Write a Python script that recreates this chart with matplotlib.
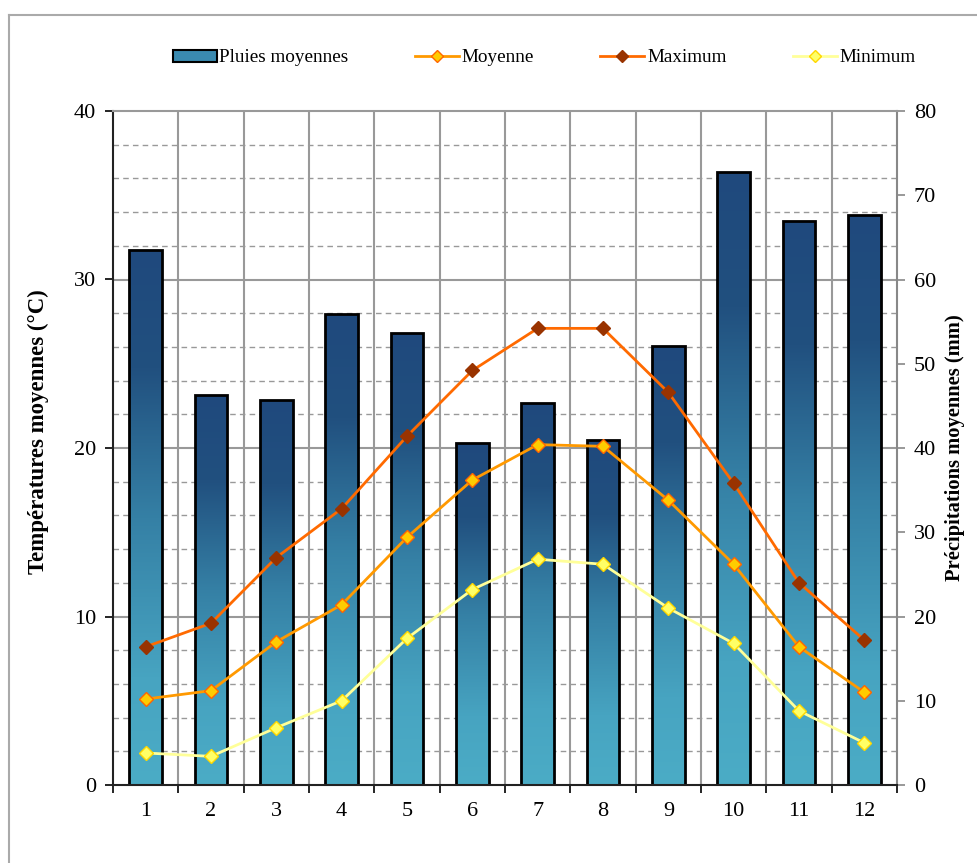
import numpy as np
import matplotlib
matplotlib.use("Agg")
import matplotlib.pyplot as plt
from matplotlib.colors import LinearSegmentedColormap
from matplotlib.patches import Patch
from matplotlib.lines import Line2D

plt.rcParams['font.family'] = ['Liberation Serif', 'DejaVu Serif']

months = list(range(1, 13))
month_labels = [str(m) for m in months]

# pluies moyennes (mm)
rain = [63.5, 46.3, 45.7, 55.9, 53.7, 40.6, 45.4, 41.0, 52.1, 72.8, 67.0, 67.6]
# temperatures (degC)
tmoy = [5.1, 5.6, 8.5, 10.7, 14.7, 18.1, 20.2, 20.1, 16.9, 13.1, 8.2, 5.5]
tmax = [8.2, 9.6, 13.5, 16.4, 20.7, 24.6, 27.1, 27.1, 23.3, 17.9, 12.0, 8.6]
tmin = [1.9, 1.7, 3.4, 5.0, 8.7, 11.6, 13.4, 13.1, 10.5, 8.4, 4.4, 2.5]

fig = plt.figure(figsize=(9.77, 8.63), dpi=100)
ax = fig.add_axes([113 / 977, 1 - 785 / 863, 784 / 977, 674 / 863])
ax2 = ax.twinx()
ax.set_zorder(ax2.get_zorder() + 1)
ax.patch.set_visible(False)

# grid drawn on the back axes (precip units = 2 x temp)
grid_col = '#999999'
for t in range(2, 40, 2):
    if t % 10 == 0:
        ax2.axhline(2 * t, color=grid_col, lw=1.5, zorder=0)
    else:
        ax2.axhline(2 * t, color=grid_col, lw=1.0, ls=(0, (4, 3)), zorder=0)
for b in np.arange(1.5, 12.5, 1):
    ax2.axvline(b, color=grid_col, lw=1.5, zorder=0)

# bars with vertical gradient
cmap = LinearSegmentedColormap.from_list(
    'pluie', [(0.0, '#4BACC6'), (0.2, '#47A4C1'), (0.5, '#3580A5'),
              (0.78, '#21507F'), (1.0, '#1F497D')])
grad = np.linspace(0, 1, 256).reshape(-1, 1)
bars = ax2.bar(months, rain, width=0.5, facecolor='none', edgecolor='black',
               linewidth=2.0, zorder=3)
for bar in bars:
    x0 = bar.get_x()
    h = bar.get_height()
    im = ax2.imshow(grad, extent=[x0, x0 + bar.get_width(), 0, h], origin='lower',
                    aspect='auto', cmap=cmap, zorder=2)
    im.set_clip_path(bar)

ax2.set_xlim(0.5, 12.5)
ax2.set_ylim(0, 80)
ax2.set_yticks(range(0, 81, 10))

# temperature lines
ax.plot(months, tmax, color='#FF6A00', lw=2, marker='D', ms=7,
        mfc='#993300', mec='#993300', label='Maximum', zorder=5)
ax.plot(months, tmoy, color='#FF9900', lw=2, marker='D', ms=7,
        mfc='#FFCC00', mec='#FF6600', label='Moyenne', zorder=5)
ax.plot(months, tmin, color='#FFFF99', lw=2, marker='D', ms=7,
        mfc='#FFFF66', mec='#FFD700', label='Minimum', zorder=5)

ax.set_xlim(0.5, 12.5)
ax.set_ylim(0, 40)
ax.set_yticks([0, 10, 20, 30, 40])
ax.set_xticks(months)
ax.set_xticklabels(month_labels)
ax.set_xticks(np.arange(0.5, 12.6, 1), minor=True)
ax.tick_params(axis='x', which='major', length=0, pad=12, labelsize=16)
ax.tick_params(axis='x', which='minor', length=6, width=1.2, direction='out')
ax.tick_params(axis='y', length=6, width=1.2, pad=6, labelsize=16)
ax2.tick_params(axis='y', length=6, width=1.2, pad=6, labelsize=16, color='#888888')

for s in ax2.spines.values():
    s.set_visible(False)
ax.spines['left'].set_color('#222222')
ax.spines['left'].set_linewidth(1.5)
ax.spines['bottom'].set_color('#222222')
ax.spines['bottom'].set_linewidth(1.5)
ax.spines['right'].set_color('#888888')
ax.spines['right'].set_linewidth(1.5)
ax.spines['top'].set_color('#999999')
ax.spines['top'].set_linewidth(1.5)

fig.text(38 / 977, 0.50, 'Températures moyennes (°C)', rotation=90,
         ha='center', va='center', fontsize=16.5, fontweight='bold')
fig.text(955 / 977, 0.481, 'Précipitations moyennes (mm)', rotation=90,
         ha='center', va='center', fontsize=14.8, fontweight='bold')

# legend
handles = [
    Patch(facecolor='#3A8AB0', edgecolor='black', linewidth=1.5),
    Line2D([], [], color='#FF9900', lw=2, marker='D', ms=6, mfc='#FFCC00', mec='#FF6600'),
    Line2D([], [], color='#FF6A00', lw=2, marker='D', ms=6, mfc='#993300', mec='#993300'),
    Line2D([], [], color='#FFFF99', lw=2, marker='D', ms=6, mfc='#FFFF66', mec='#FFD700'),
]
labels = ['Pluies moyennes', 'Moyenne', 'Maximum', 'Minimum']
fig.legend(handles, labels, loc='center', bbox_to_anchor=(0.557, 1 - 58 / 863),
           ncol=4, frameon=False, fontsize=13.8, handlelength=2.3,
           handleheight=0.6, handletextpad=0.15, columnspacing=3.45)

# outer frame (left and top edges visible)
fig.add_artist(Line2D([9 / 977, 9 / 977], [0, 1 - 15 / 863], color='#AAAAAA', lw=1.5))
fig.add_artist(Line2D([9 / 977, 1], [1 - 15 / 863, 1 - 15 / 863], color='#AAAAAA', lw=1.5))

fig.savefig('out.png', dpi=100)
